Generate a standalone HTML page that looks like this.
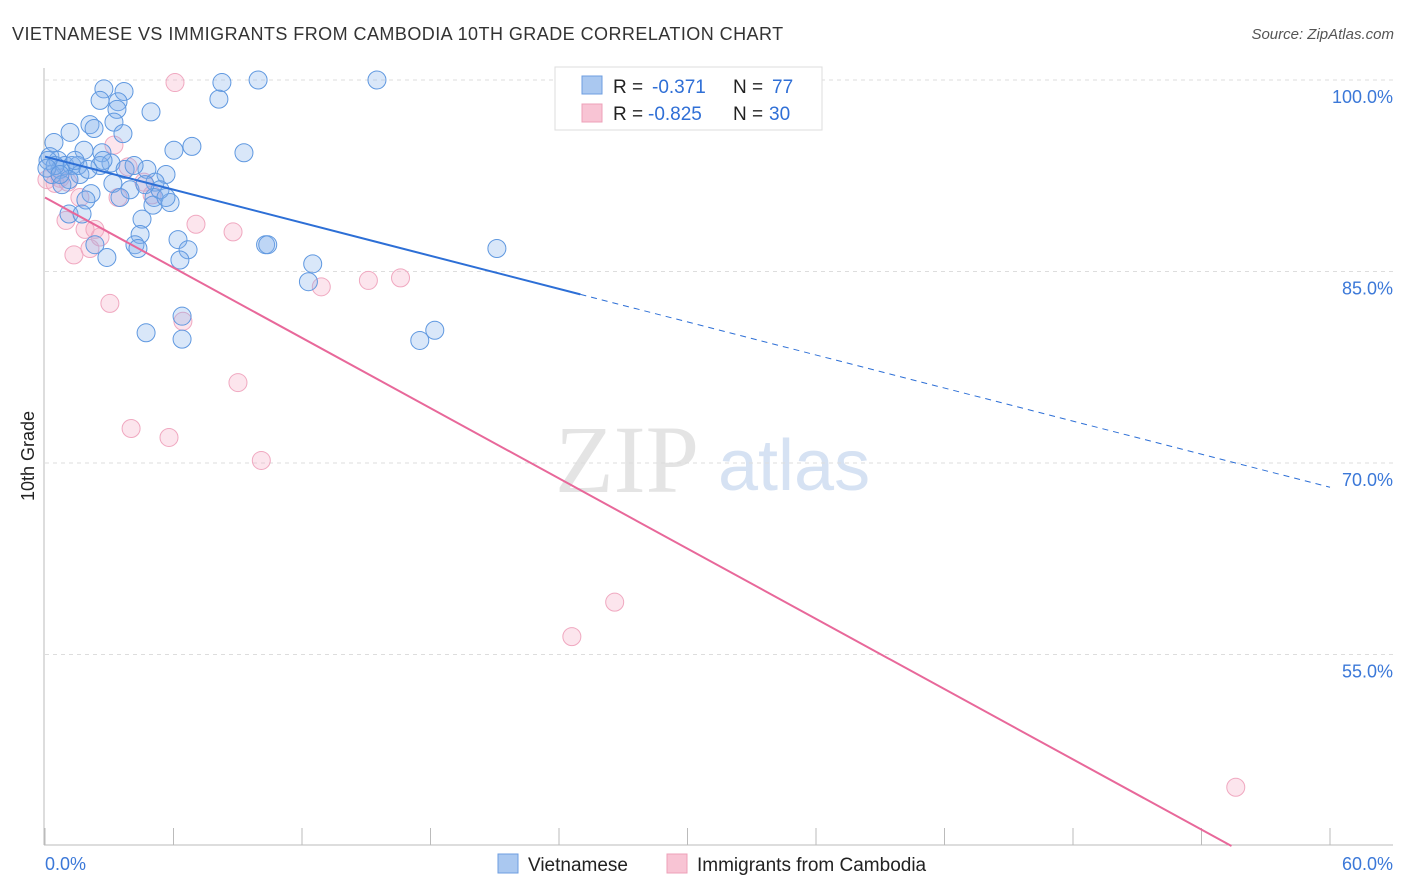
<!DOCTYPE html>
<html><head><meta charset="utf-8"><style>
body{margin:0;background:#fff;font-family:"Liberation Sans",sans-serif}
svg{display:block}
</style></head><body>
<svg id="chart" width="1406" height="892">
<text x="12" y="40" font-size="18" fill="#333" letter-spacing="0.45">VIETNAMESE VS IMMIGRANTS FROM CAMBODIA 10TH GRADE CORRELATION CHART</text>
<text x="1394" y="39" font-size="15" fill="#555" font-style="italic" text-anchor="end">Source: ZipAtlas.com</text>
<text x="555" y="492" font-size="96" fill="#e4e4e4" font-family="Liberation Serif">ZIP</text>
<text x="718" y="490" font-size="72" fill="#d6e2f3">atlas</text>
<text transform="translate(34,456) rotate(-90)" font-size="18" fill="#222" text-anchor="middle">10th Grade</text>
<g id="grid"></g><g id="pts"></g><g id="lines"></g>
<g>
<rect x="555" y="67" width="267" height="63" fill="#fff" stroke="#ddd"/>
<rect x="582" y="76" width="20" height="18" fill="#aac8f0" stroke="#6d9ee0"/>
<rect x="582" y="104" width="20" height="18" fill="#f8c4d4" stroke="#eea0b8"/>
<text x="613" y="93" font-size="19" fill="#222">R =</text>
<text x="652" y="93" font-size="19" fill="#2f6fd6">-0.371</text>
<text x="733" y="93" font-size="19" fill="#222">N =</text>
<text x="772" y="93" font-size="19" fill="#2f6fd6">77</text>
<text x="613" y="120" font-size="19" fill="#222">R =</text>
<text x="648" y="120" font-size="19" fill="#2f6fd6">-0.825</text>
<text x="733" y="120" font-size="19" fill="#222">N =</text>
<text x="769" y="120" font-size="19" fill="#2f6fd6">30</text>
</g>
<g>
<rect x="498" y="854" width="20" height="19" fill="#aac8f0" stroke="#6d9ee0"/>
<text x="528" y="871" font-size="19" fill="#222">Vietnamese</text>
<rect x="667" y="854" width="20" height="19" fill="#f8c4d4" stroke="#eea0b8"/>
<text x="697" y="871" font-size="19" fill="#222">Immigrants from Cambodia</text>
</g>
</svg>
<script>
const xTickVals=[0,6,12,18,24,30,36,42,48,54,60];
const yTickVals=[100,85,70,55];
const yTickLabels=["100.0%","85.0%","70.0%","55.0%"];
const xEndLabels=["0.0%","60.0%"];
const blueX=[2.75,3.69,2.57,3.41,8.26,9.95,15.5,8.12,4.95,3.36,1.17,2.10,2.29,3.22,3.64,0.42,6.86,6.02,9.29,2.66,1.82,3.08,0.23,0.61,0.93,1.26,1.54,0.70,1.63,0.33,1.12,0.79,4.76,5.65,5.14,3.97,3.17,2.15,1.91,3.50,5.09,5.84,5.04,4.53,1.12,1.73,4.44,6.21,2.33,4.20,4.34,6.68,2.89,6.30,10.3,10.4,12.5,12.3,21.1,6.40,4.72,6.40,18.2,17.5,0.14,0.47,2.57,1.40,3.74,5.37,5.65,0.09,0.70,4.16,2.01,2.71,4.67];
const blueY=[99.3,99.1,98.4,98.3,99.8,100,100,98.5,97.5,97.7,95.9,96.5,96.2,96.7,95.8,95.1,94.8,94.5,94.3,94.3,94.5,93.5,94.0,93.7,93.3,93.3,93.3,93.0,92.6,92.6,92.2,91.8,93.0,92.6,92.0,91.4,91.9,91.1,90.6,90.8,90.8,90.4,90.2,89.1,89.5,89.5,87.9,87.5,87.1,87.1,86.8,86.7,86.1,85.9,87.1,87.1,85.6,84.2,86.8,81.5,80.2,79.7,80.4,79.6,93.7,93.3,93.3,93.7,93.0,91.4,90.8,93.1,92.6,93.3,93.0,93.7,91.8];
const pinkX=[6.07,3.22,3.88,0.09,0.47,0.70,1.07,1.63,3.41,5.00,4.62,0.98,1.87,2.33,2.57,2.10,1.35,7.05,8.78,3.03,6.44,12.9,15.1,16.6,9.01,4.02,5.79,10.1,26.6,24.6,55.6];
const pinkY=[99.8,94.9,93.2,92.2,91.9,92.3,92.0,90.8,90.8,91.0,92.0,89.0,88.3,88.3,87.7,86.8,86.3,88.7,88.1,82.5,81.1,83.8,84.3,84.5,76.3,72.7,72.0,70.2,59.1,56.4,44.6];
const blueTrend=[94.0,68.1]; const blueSolidEnd=25.0;
const pinkTrend=[90.8,40.0]; const pinkEnd=55.4;
const X=v=>45+v/60*1285;
const Y=v=>80+(100-v)/15*191.5;
const NS="http://www.w3.org/2000/svg";
function mk(tag,attrs,parent){const e=document.createElementNS(NS,tag);for(const k in attrs)e.setAttribute(k,attrs[k]);parent.appendChild(e);return e;}
const grid=document.getElementById('grid');
mk('line',{x1:44,y1:68,x2:44,y2:845,stroke:'#bbb'},grid);
mk('line',{x1:44,y1:845,x2:1393,y2:845,stroke:'#bbb'},grid);
yTickVals.forEach((v,i)=>{
 const l=mk('line',{x1:45,y1:Y(v),x2:1393,y2:Y(v),stroke:'#ddd','stroke-dasharray':'4,4'},grid);
 
 
 const t=mk('text',{x:1393,y:Y(v)+23,'font-size':18,fill:'#3b78d8','text-anchor':'end'},grid);
 t.textContent=yTickLabels[i];
 
 
});
xTickVals.forEach(v=>{
 const l=mk('line',{x1:X(v),y1:828,x2:X(v),y2:845,stroke:'#bbb'},grid);
 
 
});
const xl0=mk('text',{x:45,y:870,'font-size':18,fill:'#3b78d8'},grid);xl0.textContent=xEndLabels[0];


const xl1=mk('text',{x:1393,y:870,'font-size':18,fill:'#3b78d8','text-anchor':'end'},grid);xl1.textContent=xEndLabels[1];


const pts=document.getElementById('pts');
pinkX.forEach((x,i)=>{
 const c=mk('circle',{cx:X(x),cy:Y(pinkY[i]),r:9,fill:'rgba(244,170,195,0.3)',stroke:'#f0a8c0','stroke-width':1},pts);
 
 
});
blueX.forEach((x,i)=>{
 const c=mk('circle',{cx:X(x),cy:Y(blueY[i]),r:9,fill:'rgba(130,175,235,0.3)',stroke:'#5f98e0','stroke-width':1},pts);
 
 
});
const lines=document.getElementById('lines');
const bAt=x=>blueTrend[0]+(blueTrend[1]-blueTrend[0])*x/60;
const b1=mk('line',{x1:X(0),y1:Y(blueTrend[0]),x2:X(blueSolidEnd),y2:Y(bAt(blueSolidEnd)),stroke:'#2d6fd6','stroke-width':2},lines);


const b2=mk('line',{x1:X(blueSolidEnd),y1:Y(bAt(blueSolidEnd)),x2:X(60),y2:Y(blueTrend[1]),stroke:'#2d6fd6','stroke-width':1,'stroke-dasharray':'6,5'},lines);


const p1=mk('line',{x1:X(0),y1:Y(pinkTrend[0]),x2:X(pinkEnd),y2:Y(pinkTrend[1]),stroke:'#e8689a','stroke-width':2},lines);


</script>
</body></html>
